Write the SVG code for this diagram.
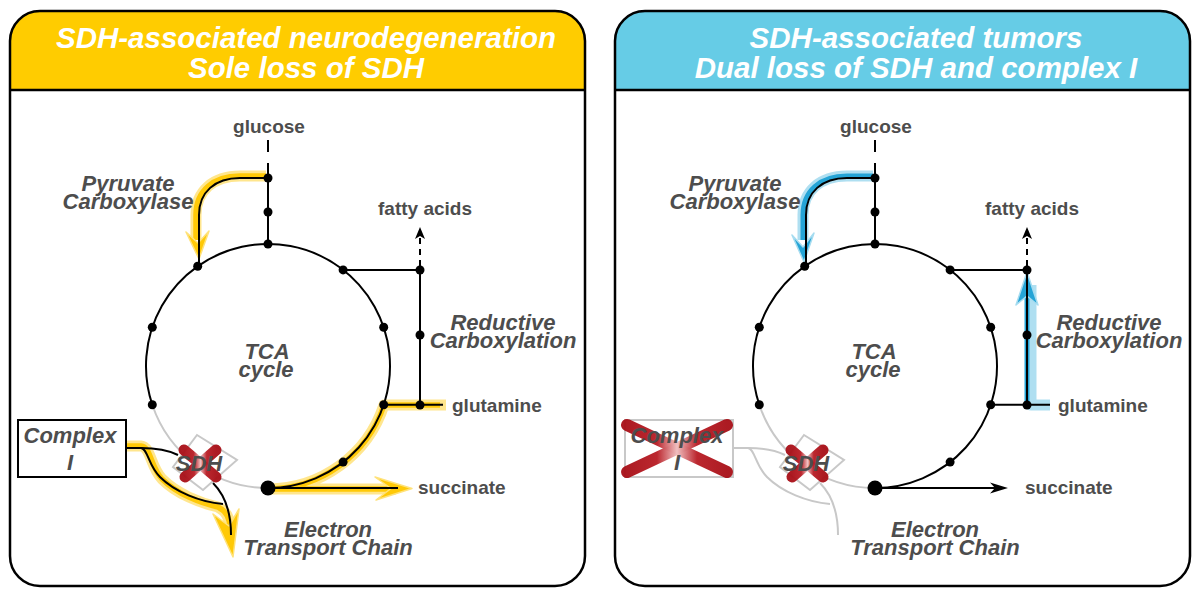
<svg xmlns="http://www.w3.org/2000/svg" width="1200" height="597" viewBox="0 0 1200 597">
<defs>
<style>
.frame{fill:none;stroke:#000;stroke-width:2.5}
.t{font-family:"Liberation Sans",Arial,sans-serif;font-weight:bold;fill:#4d4d4d;font-size:19px}
.ti{font-family:"Liberation Sans",Arial,sans-serif;font-weight:bold;font-style:italic;fill:#4d4d4d;font-size:22px}
.hd{font-family:"Liberation Sans",Arial,sans-serif;font-weight:bold;font-style:italic;fill:#fff;font-size:29.5px}
.blk{fill:none;stroke:#000;stroke-width:2}
.gry{fill:none;stroke:#c8c8c8;stroke-width:2}
.dot{fill:#000}
.yglow{fill:none;stroke:#FFE27A;stroke-width:11;stroke-linejoin:round;opacity:.85}
.ymain{fill:none;stroke:#FFC907;stroke-width:5.5;stroke-linejoin:round}
.yhead{fill:#FFC907;stroke:#FFE27A;stroke-width:1.5;stroke-linejoin:round}
.bglow{fill:none;stroke:#A6DCF0;stroke-width:11;stroke-linejoin:round;opacity:.9}
.bmain{fill:none;stroke:#25A4D6;stroke-width:5;stroke-linejoin:round}
.bhead{fill:#25A4D6;stroke:#A6DCF0;stroke-width:1.5;stroke-linejoin:round}
.xs{fill:none;stroke:url(#xg);stroke-linecap:round;opacity:.95}
.dia{fill:#fff;stroke:#c8c8c8;stroke-width:2}
</style>
<linearGradient id="xg" x1="0" y1="0" x2="1" y2="0">
<stop offset="0" stop-color="#A80F17"/>
<stop offset="0.3" stop-color="#B81C24"/>
<stop offset="0.5" stop-color="#F0BFC0"/>
<stop offset="0.7" stop-color="#B81C24"/>
<stop offset="1" stop-color="#A80F17"/>
</linearGradient>
</defs>

<!-- Panels -->
<g id="panel-left">
<path fill="#FFCC00" d="M10,90 V41 A30,30 0 0 1 40,11 H555 A30,30 0 0 1 585,41 V90 Z"/>
<path class="frame" d="M10,90 V41 A30,30 0 0 1 40,11 H555 A30,30 0 0 1 585,41 V556 A30,30 0 0 1 555,586 H40 A30,30 0 0 1 10,556 Z"/>
<line class="frame" x1="10" y1="90" x2="585" y2="90" stroke-width="2"/>
<text class="hd" text-anchor="middle" x="306" y="48">SDH-associated neurodegeneration</text>
<text class="hd" text-anchor="middle" x="306" y="78">Sole loss of SDH</text>
</g>
<g id="panel-right">
<path fill="#66CCE6" d="M615,90 V41 A30,30 0 0 1 645,11 H1160 A30,30 0 0 1 1190,41 V90 Z"/>
<path class="frame" d="M615,90 V41 A30,30 0 0 1 645,11 H1160 A30,30 0 0 1 1190,41 V556 A30,30 0 0 1 1160,586 H645 A30,30 0 0 1 615,556 Z"/>
<line class="frame" x1="615" y1="90" x2="1190" y2="90" stroke-width="2"/>
<text class="hd" text-anchor="middle" x="916" y="48">SDH-associated tumors</text>
<text class="hd" text-anchor="middle" x="916" y="78">Dual loss of SDH and complex I</text>
</g>

<!-- Connectors -->
<g id="connectors">
<!-- LEFT highlights -->
<path class="yglow" d="M266,176 H240 C213,176 196,191 196,215 V240"/>
<path class="ymain" d="M266,176 H240 C213,176 196,191 196,215 V240"/>
<path class="yhead" d="M199,259 L186,232 L198,243 L209,231 Z"/>
<path class="yglow" d="M446,405 H384 A122,122 0 0 1 268,489 H396"/>
<path class="ymain" d="M440,405 H384 A122,122 0 0 1 268,489 H396"/>
<path class="yhead" d="M412,488.5 L375,477 L391,488.5 L376,500 Z"/>
<path class="yglow" d="M127,446 H141 C151,447 150,466 162,479 C177,494 200,503 218,507 C226,511 230,518 230,528"/>
<path class="ymain" d="M127,446 H141 C151,447 150,466 162,479 C177,494 200,503 218,507 C226,511 230,518 230,528"/>
<path class="yhead" d="M233,557 L213,514 L229,526 L239,509 Z"/>

<!-- LEFT cycle -->
<path class="gry" d="M152.3,404.7 A122,122 0 0 0 268,488"/>
<path class="blk" d="M152.3,404.7 A122,122 0 1 1 268,488"/>
<path class="blk" d="M268,140 V178" stroke-dasharray="12 11"/>
<path class="blk" d="M268,178 V244"/>
<path class="blk" d="M268,178 H240 C215,178 199,192 199,215 V266"/>
<path class="blk" d="M343.1,269.9 H420 V405"/>
<path class="blk" d="M383.7,404.7 H443"/>
<path class="blk" d="M420,266 V234" stroke-dasharray="6 5"/>
<path fill="#000" d="M420,227 L425,239 L420,236 L415,239 Z"/>
<path class="blk" d="M268,488 H398"/>
<path class="blk" d="M126,448 H141 C158,448 168,450 178,455"/>
<path class="blk" d="M141,448 C148,449 148,465 160,477 C175,492 200,502 223,504"/>
<path class="blk" d="M213,483 C225,495 231,512 231,535"/>
<g class="dot">
<circle cx="268" cy="178" r="4.5"/><circle cx="268" cy="212" r="4.5"/><circle cx="268" cy="244" r="4.5"/>
<circle cx="197.7" cy="266.3" r="4.5"/><circle cx="152.3" cy="327.3" r="4.5"/><circle cx="152.3" cy="404.7" r="4.5"/>
<circle cx="343.1" cy="462.1" r="4.5"/><circle cx="383.7" cy="404.7" r="4.5"/><circle cx="383.7" cy="327.3" r="4.5"/>
<circle cx="343.1" cy="269.9" r="4.5"/><circle cx="420" cy="270" r="4.5"/><circle cx="420" cy="335" r="4.5"/>
<circle cx="420" cy="405" r="4.5"/><circle cx="268" cy="488" r="7.5"/>
</g>

<!-- RIGHT highlights -->
<path class="bglow" d="M873,176 H847 C820,176 803,191 803,215 V240"/>
<path class="bmain" d="M873,176 H847 C820,176 803,191 803,215 V240"/>
<path class="bhead" d="M804,262 L792,235 L803,247 L814,233 Z"/>
<path class="bglow" d="M1050,405 H1031 V285"/>
<path class="bmain" d="M1027,405 V292"/>
<path class="bhead" d="M1027,272 L1038,305 L1027,296 L1016,305 Z"/>

<!-- RIGHT cycle -->
<path class="gry" d="M759.3,404.7 A122,122 0 0 0 875,488"/>
<path class="blk" d="M759.3,404.7 A122,122 0 1 1 875,488"/>
<path class="blk" d="M875,140 V178" stroke-dasharray="12 11"/>
<path class="blk" d="M875,178 V244"/>
<path class="blk" d="M875,178 H847 C822,178 806,192 806,215 V266"/>
<path class="blk" d="M950.1,269.9 H1027 V405"/>
<path class="blk" d="M990.7,404.7 H1050"/>
<path class="blk" d="M1027,266 V234" stroke-dasharray="6 5"/>
<path fill="#000" d="M1027,227 L1032,239 L1027,236 L1022,239 Z"/>
<path class="blk" d="M875,488 H996"/>
<path fill="#000" d="M1008,488 L990,482.5 L995,488 L990,493.5 Z"/>
<path class="gry" d="M733,448 H748 C765,448 775,450 785,455"/>
<path class="gry" d="M748,448 C755,449 755,465 767,477 C782,492 807,502 830,504"/>
<path class="gry" d="M820,483 C832,495 838,512 838,535"/>
<g class="dot">
<circle cx="875" cy="178" r="4.5"/><circle cx="875" cy="212" r="4.5"/><circle cx="875" cy="244" r="4.5"/>
<circle cx="804.7" cy="266.3" r="4.5"/><circle cx="759.3" cy="327.3" r="4.5"/><circle cx="759.3" cy="404.7" r="4.5"/>
<circle cx="950.1" cy="462.1" r="4.5"/><circle cx="990.7" cy="404.7" r="4.5"/><circle cx="990.7" cy="327.3" r="4.5"/>
<circle cx="950.1" cy="269.9" r="4.5"/><circle cx="1027" cy="270" r="4.5"/><circle cx="1027" cy="335" r="4.5"/>
<circle cx="1027" cy="405" r="4.5"/><circle cx="875" cy="488" r="7.5"/>
</g>
</g>

<!-- LEFT nodes -->
<g id="L-glucose"><text class="t" text-anchor="middle" x="269" y="133">glucose</text></g>
<g id="L-fatty"><text class="t" text-anchor="middle" x="425" y="215">fatty acids</text></g>
<g id="L-glutamine"><text class="t" x="452" y="412">glutamine</text></g>
<g id="L-succinate"><text class="t" x="418" y="494">succinate</text></g>
<g id="L-tca"><text class="ti" text-anchor="middle" x="267" y="359">TCA</text><text class="ti" text-anchor="middle" x="266" y="377">cycle</text></g>
<g id="L-pc"><text class="ti" text-anchor="middle" x="128" y="191">Pyruvate</text><text class="ti" text-anchor="middle" x="128" y="209">Carboxylase</text></g>
<g id="L-rc"><text class="ti" text-anchor="middle" x="503" y="330">Reductive</text><text class="ti" text-anchor="middle" x="503" y="348">Carboxylation</text></g>
<g id="L-etc"><text class="ti" text-anchor="middle" x="328" y="537">Electron</text><text class="ti" text-anchor="middle" x="328" y="555">Transport Chain</text></g>
<g id="L-complexI">
<rect x="18" y="420" width="108" height="57" fill="#fff" stroke="#000" stroke-width="2"/>
<text class="ti" text-anchor="middle" x="70" y="443">Complex</text>
<text class="ti" text-anchor="middle" x="70" y="470">I</text>
</g>
<g id="L-sdh">
<polygon class="dia" points="197,435 237,460 203,490 173,467"/>
<line class="xs" stroke-width="11" x1="184" y1="450" x2="216" y2="477"/>
<line class="xs" stroke-width="11" x1="216" y1="450" x2="185" y2="477"/>
<text class="ti" text-anchor="middle" x="199" y="471">SDH</text>
</g>

<!-- RIGHT nodes -->
<g id="R-glucose"><text class="t" text-anchor="middle" x="876" y="133">glucose</text></g>
<g id="R-fatty"><text class="t" text-anchor="middle" x="1032" y="215">fatty acids</text></g>
<g id="R-glutamine"><text class="t" x="1058" y="412">glutamine</text></g>
<g id="R-succinate"><text class="t" x="1025" y="494">succinate</text></g>
<g id="R-tca"><text class="ti" text-anchor="middle" x="874" y="359">TCA</text><text class="ti" text-anchor="middle" x="873" y="377">cycle</text></g>
<g id="R-pc"><text class="ti" text-anchor="middle" x="735" y="191">Pyruvate</text><text class="ti" text-anchor="middle" x="735" y="209">Carboxylase</text></g>
<g id="R-rc"><text class="ti" text-anchor="middle" x="1109" y="330">Reductive</text><text class="ti" text-anchor="middle" x="1109" y="348">Carboxylation</text></g>
<g id="R-etc"><text class="ti" text-anchor="middle" x="935" y="537">Electron</text><text class="ti" text-anchor="middle" x="935" y="555">Transport Chain</text></g>
<g id="R-complexI">
<rect x="625" y="420" width="108" height="57" fill="#fff" stroke="#c8c8c8" stroke-width="2"/>
<line class="xs" stroke-width="12" x1="627" y1="425" x2="727" y2="472"/>
<line class="xs" stroke-width="12" x1="727" y1="425" x2="627" y2="472"/>
<text class="ti" text-anchor="middle" x="677" y="443">Complex</text>
<text class="ti" text-anchor="middle" x="677" y="470">I</text>
</g>
<g id="R-sdh">
<polygon class="dia" points="804,435 844,460 810,490 780,467"/>
<line class="xs" stroke-width="11" x1="791" y1="450" x2="823" y2="477"/>
<line class="xs" stroke-width="11" x1="823" y1="450" x2="792" y2="477"/>
<text class="ti" text-anchor="middle" x="806" y="471">SDH</text>
</g>
</svg>
